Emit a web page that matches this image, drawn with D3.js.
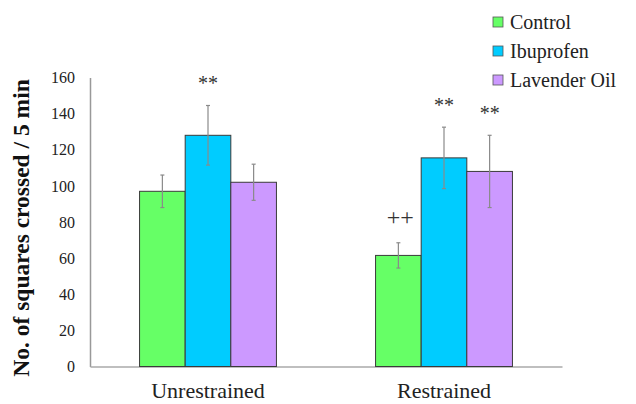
<!DOCTYPE html>
<html><head><meta charset="utf-8">
<script src="https://cdn.jsdelivr.net/npm/d3@7"></script>
<style>body{margin:0;background:#fff;}svg{display:block;}</style>
</head><body>
<svg id="chart" width="636" height="404"></svg>
<script>
const groups = ["Unrestrained", "Restrained"];
const seriesNames = ["Control", "Ibuprofen", "Lavender Oil"];
const seriesColors = ["#66FF66", "#00CCFF", "#CC99FF"];
const controlValues = [97, 61.5];
const ibuprofenValues = [128, 115.5];
const lavenderValues = [102, 108];
const controlErr = [9, 7];
const ibuprofenErr = [16.5, 17];
const lavenderErr = [10, 20];
const controlMarks = ["", "++"];
const ibuprofenMarks = ["**", "**"];
const lavenderMarks = ["", "**"];
const yTicks = [0, 20, 40, 60, 80, 100, 120, 140, 160];
const yLabel = "No. of squares crossed / 5 min";

const values = [controlValues, ibuprofenValues, lavenderValues];
const errs = [controlErr, ibuprofenErr, lavenderErr];
const marks = [controlMarks, ibuprofenMarks, lavenderMarks];

const svg = d3.select("#chart");
const serif = "Liberation Serif, Times New Roman, serif";

const x0 = d3.scaleBand().domain(groups).range([90, 562]).paddingInner(0.42).paddingOuter(0.21);
const x1 = d3.scaleBand().domain(seriesNames).range([0, x0.bandwidth()]).padding(0);
const y = d3.scaleLinear().domain([0, 160]).range([366.5, 77.5]);

// Y axis
const yAxis = svg.append("g").attr("transform", "translate(90,0)")
  .call(d3.axisLeft(y).tickValues(yTicks).tickSize(0).tickPadding(15));
yAxis.select(".domain").attr("stroke", "#999").attr("stroke-width", 1.5);
yAxis.selectAll("text").attr("font-family", serif).attr("font-size", 16).attr("fill", "#222");

// X axis
const xAxis = svg.append("g").attr("transform", "translate(0,366.5)")
  .call(d3.axisBottom(x0).tickSize(0).tickPadding(16).tickSizeOuter(0));
xAxis.select(".domain").attr("stroke", "#aaa").attr("stroke-width", 1.5);
xAxis.selectAll("text").attr("font-family", serif).attr("font-size", 22).attr("fill", "#222");

// Bars
const data = [];
groups.forEach((g, gi) => {
  seriesNames.forEach((s, si) => {
    data.push({g, s, si, v: values[si][gi], e: errs[si][gi], m: marks[si][gi]});
  });
});

svg.append("g").selectAll("rect").data(data).join("rect")
  .attr("x", d => x0(d.g) + x1(d.s))
  .attr("y", d => y(d.v))
  .attr("width", x1.bandwidth())
  .attr("height", d => y(0) - y(d.v))
  .attr("fill", d => seriesColors[d.si])
  .attr("stroke", "#3a3a3a").attr("stroke-width", 1);

// Error bars
const eb = svg.append("g").attr("stroke", "#8a8a8a").attr("stroke-width", 1.2);
data.forEach(d => {
  const cx = x0(d.g) + x1(d.s) + x1.bandwidth() / 2;
  eb.append("line").attr("x1", cx).attr("x2", cx).attr("y1", y(d.v + d.e)).attr("y2", y(d.v - d.e));
  eb.append("line").attr("x1", cx - 2).attr("x2", cx + 2).attr("y1", y(d.v + d.e)).attr("y2", y(d.v + d.e));
  eb.append("line").attr("x1", cx - 2).attr("x2", cx + 2).attr("y1", y(d.v - d.e)).attr("y2", y(d.v - d.e));
});

// Significance marks
svg.append("g").selectAll("text").data(data.filter(d => d.m)).join("text")
  .attr("x", d => x0(d.g) + x1(d.s) + x1.bandwidth() / 2 + (d.m === "++" ? 2 : 0))
  .attr("y", d => d.m === "++" ? y(d.v + d.e) - 18 : y(d.v + d.e) - 15)
  .attr("text-anchor", "middle")
  .attr("font-family", serif).attr("font-size", d => d.m === "++" ? 24 : 20)
  .attr("fill", "#333")
  .text(d => d.m);

// Y label
svg.append("text")
  .attr("transform", "translate(29,228) rotate(-90)")
  .attr("text-anchor", "middle")
  .attr("font-family", serif).attr("font-weight", "bold").attr("font-size", 23.5)
  .attr("fill", "#111")
  .text(yLabel);

// Legend
const lg = svg.append("g");
seriesNames.forEach((s, i) => {
  const cy = 22 + i * 29;
  lg.append("rect").attr("x", 493).attr("y", cy - 5).attr("width", 10).attr("height", 10)
    .attr("fill", seriesColors[i]).attr("stroke", "#555").attr("stroke-width", 0.8);
  lg.append("text").attr("x", 510).attr("y", cy + 7)
    .attr("font-family", serif).attr("font-size", 20).attr("fill", "#222").text(s);
});
</script>
</body></html>
